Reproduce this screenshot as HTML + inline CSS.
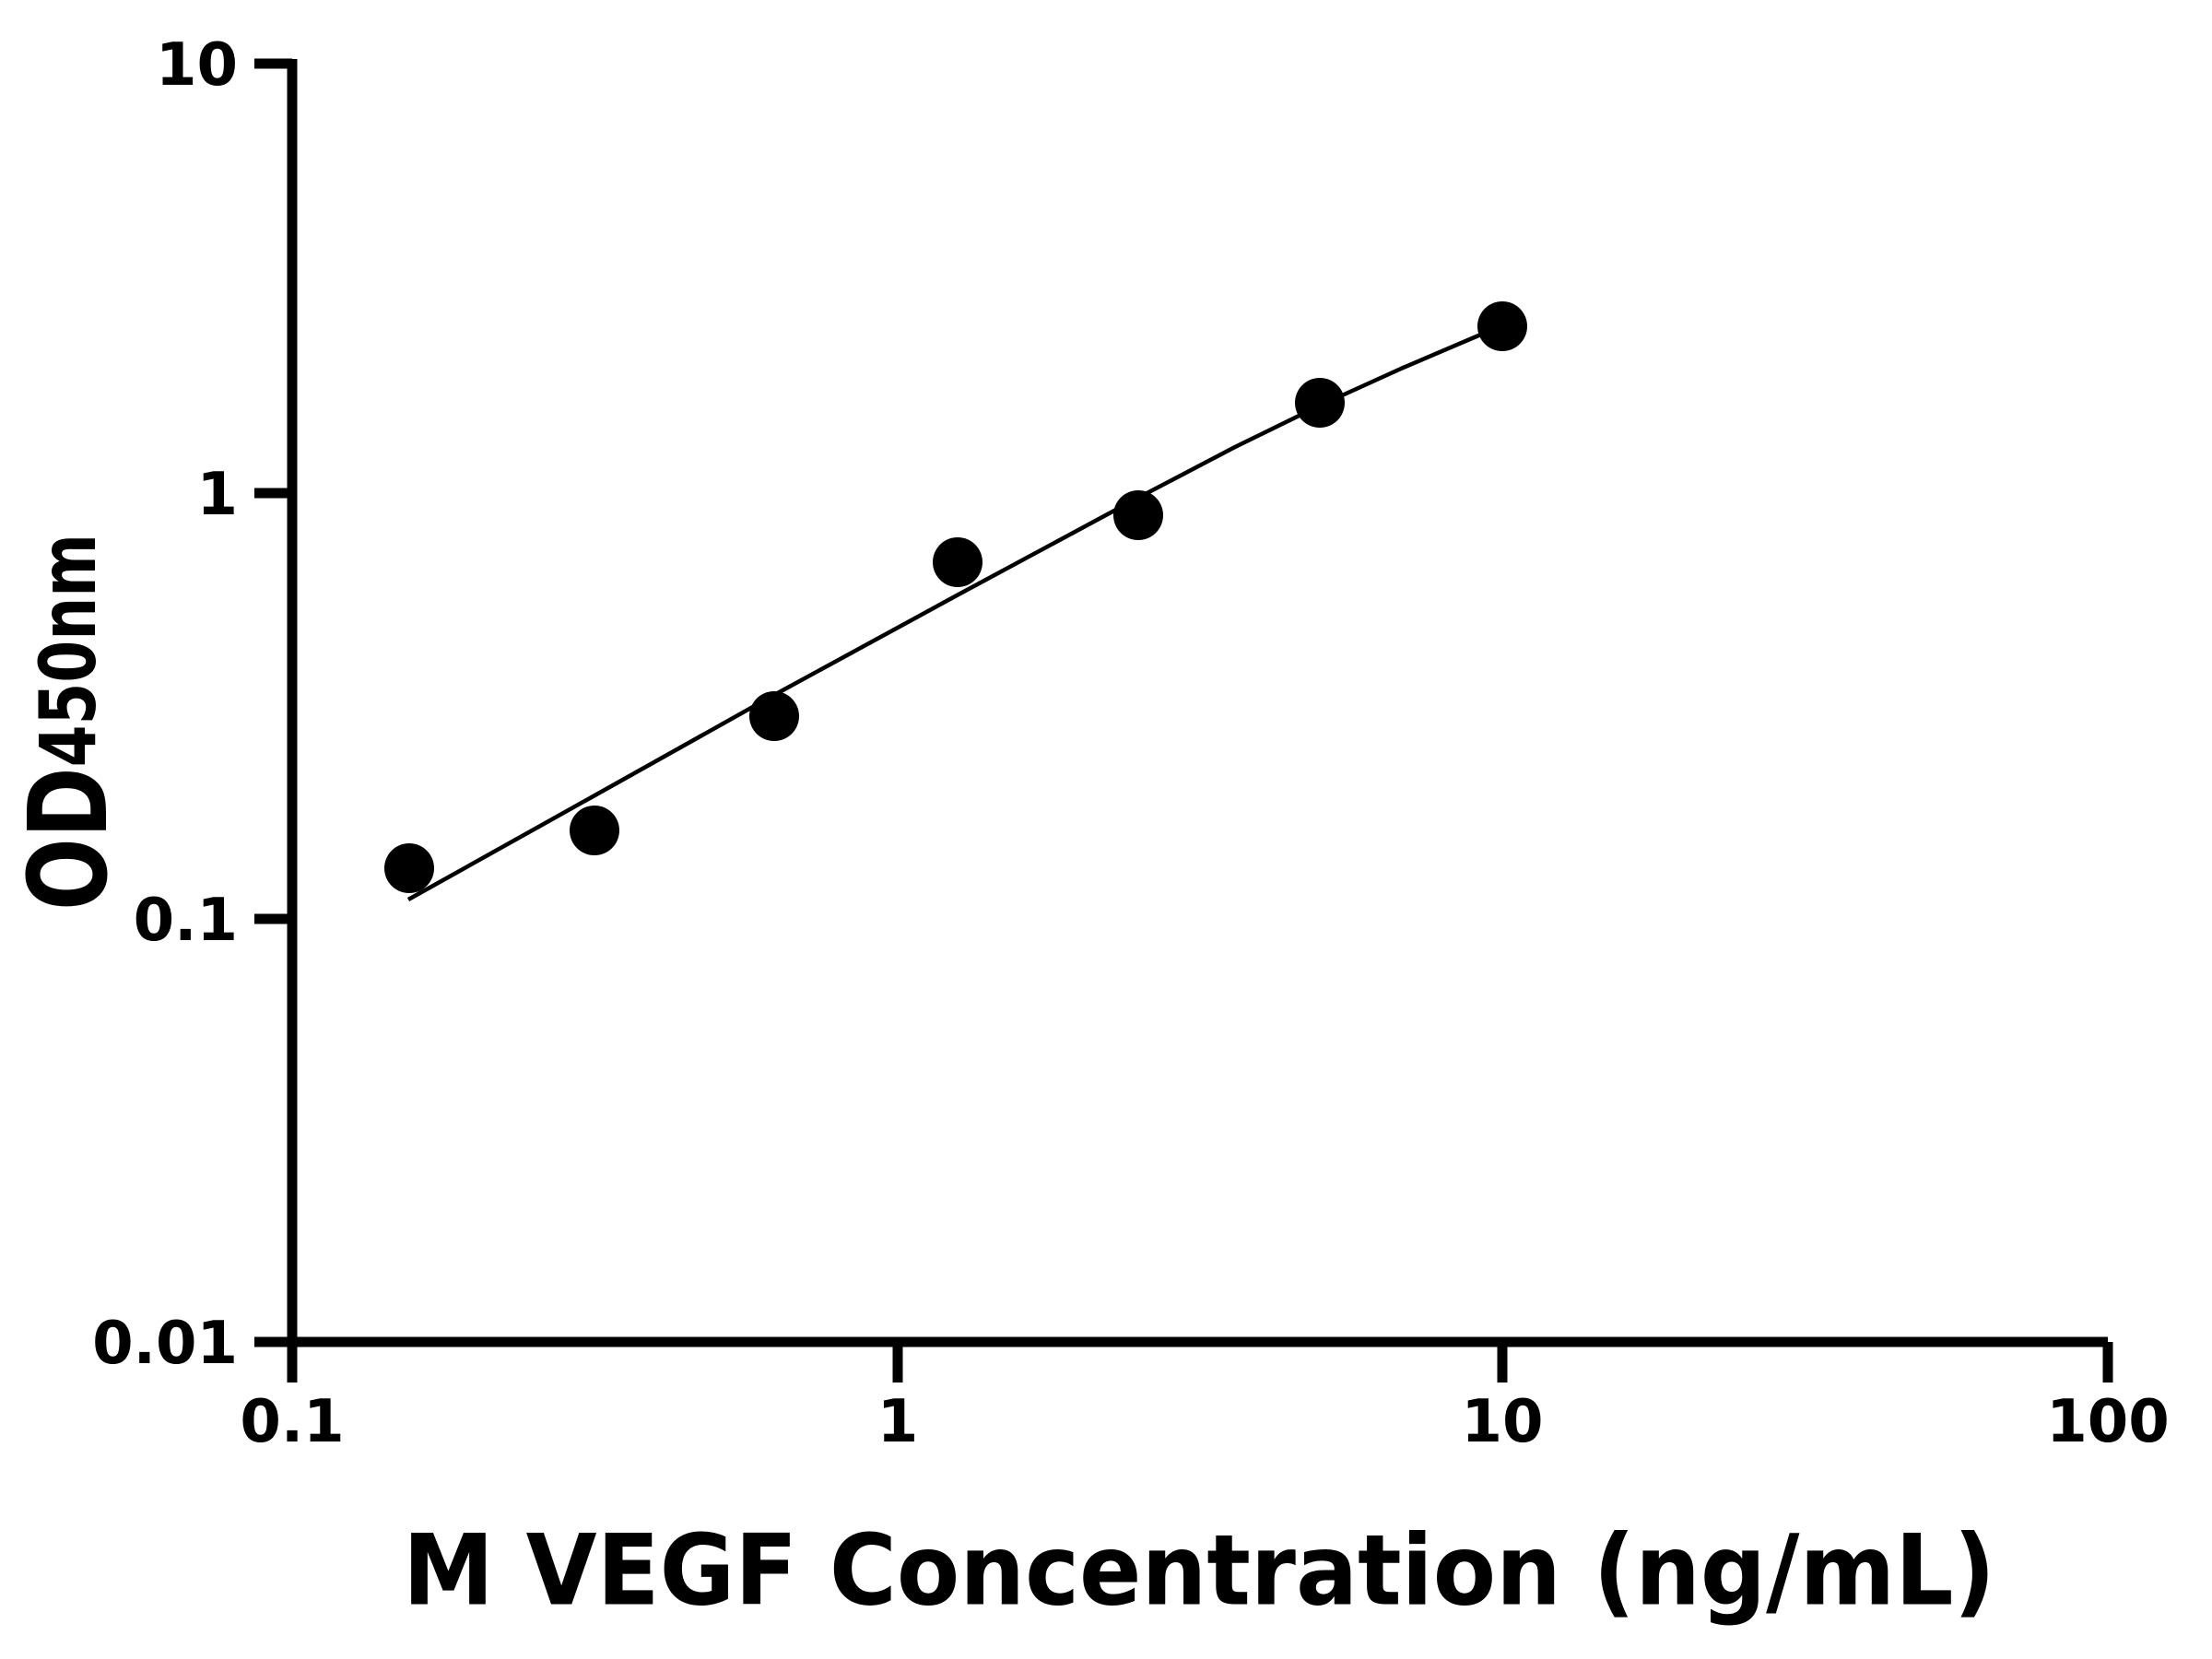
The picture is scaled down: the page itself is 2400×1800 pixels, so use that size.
<!DOCTYPE html>
<html><head><style>body{margin:0;background:#fff}svg{display:block}</style></head><body>
<svg width="2400" height="1800" xmlns="http://www.w3.org/2000/svg" font-family="DejaVu Sans, Liberation Sans, sans-serif" font-weight="bold">
<rect width="2400" height="1800" fill="#fff"/>
<g stroke="#000" stroke-width="11" fill="none">
<line x1="317" y1="64" x2="317" y2="1461"/>
<line x1="312" y1="1456" x2="2287" y2="1456"/>
<line x1="276" y1="69" x2="317" y2="69"/>
<line x1="276" y1="535" x2="317" y2="535"/>
<line x1="276" y1="997" x2="317" y2="997"/>
<line x1="276" y1="1456" x2="317" y2="1456"/>
<line x1="317" y1="1456" x2="317" y2="1500"/>
<line x1="974" y1="1456" x2="974" y2="1500"/>
<line x1="1630" y1="1456" x2="1630" y2="1500"/>
<line x1="2287" y1="1456" x2="2287" y2="1500"/>
</g>
<g font-size="64" text-anchor="end" dominant-baseline="central">
<text x="258" y="71">10</text>
<text x="258" y="537">1</text>
<text x="258" y="999">0.1</text>
<text x="258" y="1458">0.01</text>
</g>
<g font-size="64" text-anchor="middle" dominant-baseline="central">
<text x="317" y="1543">0.1</text>
<text x="974" y="1543">1</text>
<text x="1630" y="1543">10</text>
<text x="2287" y="1543">100</text>
</g>
<text x="1301" y="1704" font-size="106" text-anchor="middle" dominant-baseline="central" textLength="1728" lengthAdjust="spacingAndGlyphs">M VEGF Concentration (ng/mL)</text>
<g transform="translate(74,988) rotate(-90)">
<text x="0" y="0" dominant-baseline="central" textLength="409" lengthAdjust="spacingAndGlyphs"><tspan font-size="118">OD</tspan><tspan font-size="84">450nm</tspan></text>
</g>
<path d="M443,976 L640,866 L840,754 L1040,645 L1235,540 L1340,485 L1432,440 L1520,400 L1609,362" stroke="#000" stroke-width="4.5" fill="none" stroke-linejoin="round"/>
<g fill="#000">
<circle cx="444" cy="942" r="27"/>
<circle cx="645" cy="901" r="27"/>
<circle cx="840" cy="777" r="27"/>
<circle cx="1039" cy="610" r="27"/>
<circle cx="1235" cy="559" r="27"/>
<circle cx="1432" cy="437" r="27"/>
<circle cx="1630" cy="354" r="27"/>
</g>
</svg>
</body></html>
